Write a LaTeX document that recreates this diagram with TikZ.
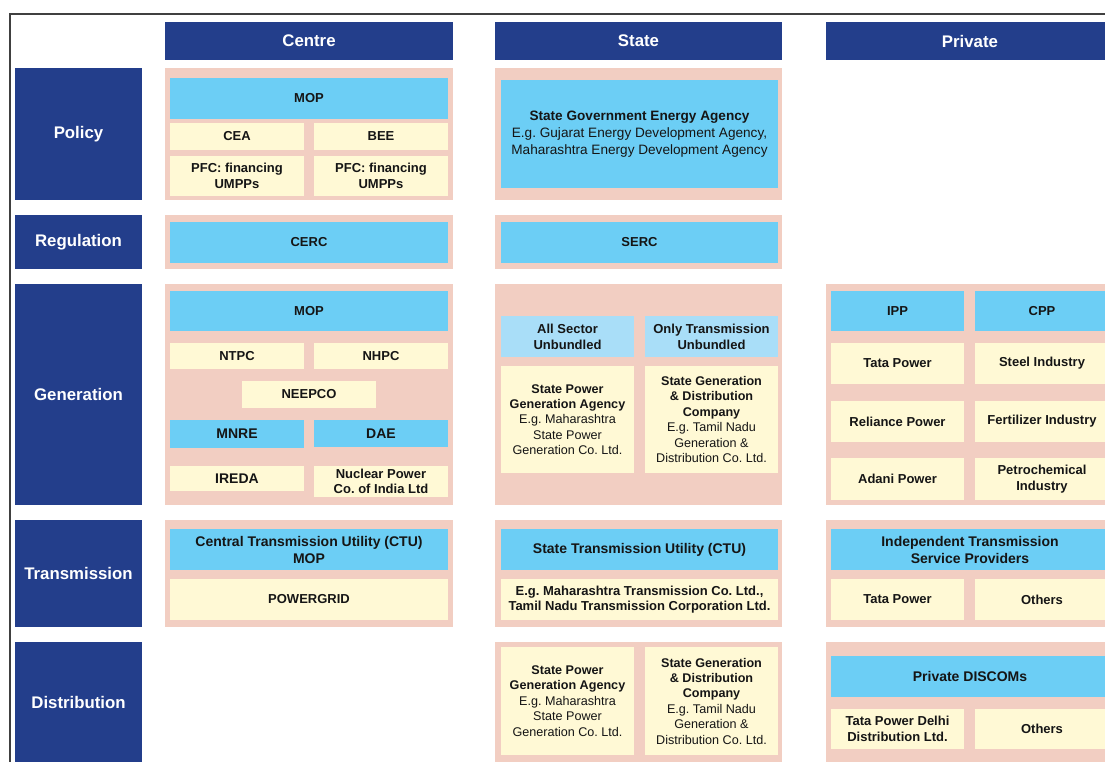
\documentclass[tikz,border=0pt]{standalone}
\usepackage{fontspec}
\setmainfont{Liberation Sans}
\frenchspacing
\definecolor{dblue}{HTML}{233E8B}
\definecolor{pinkp}{HTML}{F2CEC2}
\definecolor{lblue}{HTML}{6CCEF5}
\definecolor{pblue}{HTML}{A9DEF8}
\definecolor{cream}{HTML}{FFF9D5}
\definecolor{txt}{HTML}{151515}
\newcommand\mybox[7]{%
  \node[#6, minimum width={#4pt-#2pt}, minimum height={#5pt-#3pt}] (#1) at ({(#2+#4)/2},{(#3+#5)/2}) {#7};}
\tikzset{
  base/.style={inner sep=0pt, outer sep=0pt, align=center, text=txt},
  hdr/.style={base, fill=dblue, text=white, font=\fontsize{16.8}{20}\selectfont\bfseries},
  panel/.style={base, fill=pinkp},
  bbox/.style={base, fill=lblue, font=\fontsize{13}{16}\selectfont\bfseries},
  bboxl/.style={base, fill=lblue, font=\fontsize{14}{17}\selectfont\bfseries},
  pbox/.style={base, fill=pblue, font=\fontsize{13}{16}\selectfont\bfseries},
  ybox/.style={base, fill=cream, font=\fontsize{13}{15.5}\selectfont\bfseries},
  yboxl/.style={base, fill=cream, font=\fontsize{14}{17}\selectfont\bfseries},
  ysmall/.style={base, fill=cream, font=\fontsize{12.6}{15.4}\selectfont},
}
\begin{document}
\begin{tikzpicture}[x=1pt,y=-1pt]
\useasboundingbox (0,0) rectangle (1105,761);
\fill[white] (0,0) rectangle (1105,761);
\draw[black!75, line width=1.1pt] (10,762) -- (10,14) -- (1105,14);
% headers
\mybox{hC}{165}{22}{453}{60}{hdr}{Centre}
\mybox{hS}{495}{22}{782}{60}{hdr}{State}
\mybox{hP}{826}{22}{1114}{60}{hdr}{Private}
% row labels
\mybox{rPol}{15}{68}{142}{200}{hdr}{Policy}
\mybox{rReg}{15}{215}{142}{269}{hdr}{Regulation}
\mybox{rGen}{15}{284}{142}{505}{hdr}{Generation}
\mybox{rTra}{15}{520}{142}{627}{hdr}{Transmission}
\mybox{rDis}{15}{642}{142}{762}{hdr}{Distribution}
% policy
\mybox{pC}{165}{68}{453}{200}{panel}{}
\mybox{cMOP}{170}{78}{448}{119}{bbox}{MOP}
\mybox{cCEA}{170}{123}{304}{150}{ybox}{CEA}
\mybox{cBEE}{314}{123}{448}{150}{ybox}{BEE}
\mybox{cPFCa}{170}{156}{304}{196}{ybox}{PFC: financing\\UMPPs}
\mybox{cPFCb}{314}{156}{448}{196}{ybox}{PFC: financing\\UMPPs}
\mybox{pS}{495}{68}{782}{200}{panel}{}
\mybox{sSGEA}{501}{80}{778}{188}{base, fill=lblue, font=\fontsize{13.6}{17}\selectfont}{\textbf{State Government Energy Agency}\\E.g. Gujarat Energy Development Agency,\\Maharashtra Energy Development Agency}
% regulation
\mybox{gC}{165}{215}{453}{269}{panel}{}
\mybox{cCERC}{170}{222}{448}{263}{bbox}{CERC}
\mybox{gS}{495}{215}{782}{269}{panel}{}
\mybox{sSERC}{501}{222}{778}{263}{bbox}{SERC}
% generation centre
\mybox{nC}{165}{284}{453}{505}{panel}{}
\mybox{gMOP}{170}{291}{448}{331}{bbox}{MOP}
\mybox{gNTPC}{170}{343}{304}{369}{ybox}{NTPC}
\mybox{gNHPC}{314}{343}{448}{369}{ybox}{NHPC}
\mybox{gNEEPCO}{242}{381}{376}{408}{ybox}{NEEPCO}
\mybox{gMNRE}{170}{420}{304}{448}{bboxl}{MNRE}
\mybox{gDAE}{314}{420}{448}{447}{bboxl}{DAE}
\mybox{gIREDA}{170}{466}{304}{491}{yboxl}{IREDA}
\mybox{gNPC}{314}{466}{448}{497}{ybox}{Nuclear Power\\Co. of India Ltd}
% generation state
\mybox{nS}{495}{284}{782}{505}{panel}{}
\mybox{gAll}{501}{316}{634}{357}{pbox}{All Sector\\Unbundled}
\mybox{gOnly}{645}{316}{778}{357}{pbox}{Only Transmission\\Unbundled}
\mybox{gSPGA}{501}{366}{634}{473}{ysmall}{\textbf{State Power}\\\textbf{Generation Agency}\\E.g. Maharashtra\\State Power\\Generation Co. Ltd.}
\mybox{gSGDC}{645}{366}{778}{473}{ysmall}{\textbf{State Generation}\\\textbf{\& Distribution}\\\textbf{Company}\\E.g. Tamil Nadu\\Generation \&\\Distribution Co. Ltd.}
% generation private
\mybox{nP}{826}{284}{1114}{505}{panel}{}
\mybox{gIPP}{831}{291}{964}{331}{bbox}{IPP}
\mybox{gCPP}{975}{291}{1109}{331}{bbox}{CPP}
\mybox{gTata}{831}{343}{964}{384}{ybox}{Tata Power}
\mybox{gSteel}{975}{343}{1109}{384}{ybox}{Steel Industry}
\mybox{gRel}{831}{401}{964}{442}{ybox}{Reliance Power}
\mybox{gFert}{975}{401}{1109}{442}{ybox}{Fertilizer Industry}
\mybox{gAdani}{831}{458}{964}{500}{ybox}{Adani Power}
\mybox{gPetro}{975}{458}{1109}{500}{ybox}{Petrochemical\\Industry}
% transmission
\mybox{tC}{165}{520}{453}{627}{panel}{}
\mybox{tCTU}{170}{529}{448}{570}{bboxl}{Central Transmission Utility (CTU)\\MOP}
\mybox{tPG}{170}{579}{448}{620}{ybox}{POWERGRID}
\mybox{tS}{495}{520}{782}{627}{panel}{}
\mybox{tSTU}{501}{529}{778}{570}{bboxl}{State Transmission Utility (CTU)}
\mybox{tSEg}{501}{579}{778}{620}{ybox}{E.g. Maharashtra Transmission Co. Ltd.,\\Tamil Nadu Transmission Corporation Ltd.}
\mybox{tP}{826}{520}{1114}{627}{panel}{}
\mybox{tITSP}{831}{529}{1109}{570}{bboxl}{Independent Transmission\\Service Providers}
\mybox{tTata}{831}{579}{964}{620}{ybox}{Tata Power}
\mybox{tOth}{975}{579}{1109}{620}{ybox}{Others}
% distribution
\mybox{dS}{495}{642}{782}{762}{panel}{}
\mybox{dSPGA}{501}{647}{634}{755}{ysmall}{\textbf{State Power}\\\textbf{Generation Agency}\\E.g. Maharashtra\\State Power\\Generation Co. Ltd.}
\mybox{dSGDC}{645}{647}{778}{755}{ysmall}{\textbf{State Generation}\\\textbf{\& Distribution}\\\textbf{Company}\\E.g. Tamil Nadu\\Generation \&\\Distribution Co. Ltd.}
\mybox{dP}{826}{642}{1114}{762}{panel}{}
\mybox{dDIS}{831}{656}{1109}{697}{bboxl}{Private DISCOMs}
\mybox{dTata}{831}{709}{964}{749}{ybox}{Tata Power Delhi\\Distribution Ltd.}
\mybox{dOth}{975}{709}{1109}{749}{ybox}{Others}
\end{tikzpicture}
\end{document}
